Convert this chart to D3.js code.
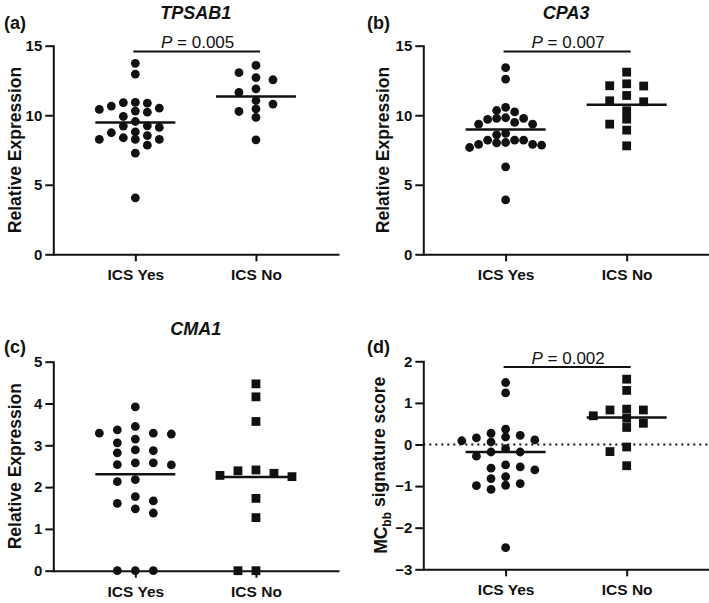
<!DOCTYPE html>
<html>
<head>
<meta charset="utf-8">
<script src="https://cdn.jsdelivr.net/npm/d3@7"></script>
<style>
  html, body { margin: 0; padding: 0; background: #fff; }
  svg { display: block; }
  text { font-family: "Liberation Sans", Arial, Helvetica, sans-serif; }
</style>
</head>
<body>
<svg id="chart" width="709" height="603"></svg>
<script>
// ---------------- DATA ----------------
const categories = ["ICS Yes", "ICS No"];

const tpsab1Yes = [13.73, 12.96, 10.92, 10.42, 10.30, 10.66, 10.51, 10.87, 10.90, 10.22, 9.91, 9.24, 8.81, 9.22, 8.74, 9.55, 9.12, 8.26, 8.54, 8.26, 8.26, 8.38, 7.85, 7.27, 4.06];
const tpsab1No  = [13.58, 13.06, 12.55, 12.70, 11.64, 11.90, 10.46, 10.80, 11.06, 10.27, 9.84, 8.23];
const tpsab1Line = [9.48, 11.35];

const cpa3Yes = [13.42, 12.60, 10.34, 10.24, 10.56, 9.70, 9.77, 9.77, 9.36, 9.36, 9.82, 9.48, 8.69, 8.59, 8.21, 8.04, 8.21, 7.68, 8.02, 7.90, 7.90, 7.85, 8.21, 6.29, 3.91];
const cpa3No  = [13.10, 12.26, 12.10, 12.12, 11.42, 11.04, 10.97, 10.32, 9.72, 9.36, 8.93, 7.80];
const cpa3Line = [8.98, 10.75];

const cma1Yes = [3.92, 3.37, 3.29, 3.29, 3.45, 3.27, 3.06, 3.15, 2.87, 2.82, 2.89, 2.54, 2.58, 2.53, 2.58, 2.18, 2.13, 1.77, 1.61, 1.67, 1.48, 1.38, 0, 0, 0];
const cma1No  = [4.47, 4.16, 3.57, 2.25, 2.41, 2.33, 2.39, 2.28, 1.73, 1.27, 0, 0];
const cma1Line = [2.31, 2.24];

const mcbbYes = [1.49, 1.24, 0.22, 0.27, 0.37, 0.06, 0.11, 0.09, 0.18, 0.16, -0.18, -0.10, -0.28, -0.18, -0.49, -0.61, -0.54, -0.57, -0.77, -0.82, -0.94, -0.99, -1.08, -0.98, -2.48];
const mcbbNo  = [1.57, 1.30, 0.85, 0.63, 0.83, 0.51, 0.69, 0.41, 0.83, -0.06, -0.17, -0.51];
const mcbbLine = [-0.18, 0.65];

const ticksAB = [0, 5, 10, 15];
const ticksC  = [0, 1, 2, 3, 4, 5];
const ticksD  = [-3, -2, -1, 0, 1, 2];

const panelLetters = ["(a)", "(b)", "(c)", "(d)"];
const geneTitles = ["TPSAB1", "CPA3", "CMA1", ""];
const pValues = ["0.005", "0.007", null, "0.002"];
const yLabelText = "Relative Expression";

// ---------------- LAYOUT ----------------
const panels = [
  { letter: panelLetters[0], title: geneTitles[0], p: pValues[0], yes: tpsab1Yes, no: tpsab1No, line: tpsab1Line,
    ticks: ticksAB, domain: [0, 15], left: 53.3, right: 338, top: 45.7, bottom: 254.3,
    shapes: ["circle", "circle"], steps: [12, 17], labelX: 4, labelY: 29, ylabX: 15, mcbb: false, zero: false },
  { letter: panelLetters[1], title: geneTitles[1], p: pValues[1], yes: cpa3Yes, no: cpa3No, line: cpa3Line,
    ticks: ticksAB, domain: [0, 15], left: 423.3, right: 709, top: 45.7, bottom: 254.3,
    shapes: ["circle", "square"], steps: [9, 17], labelX: 367, labelY: 29, ylabX: 383, mcbb: false, zero: false },
  { letter: panelLetters[2], title: geneTitles[2], p: pValues[2], yes: cma1Yes, no: cma1No, line: cma1Line,
    ticks: ticksC, domain: [0, 5], left: 53.3, right: 338, top: 361.7, bottom: 570.7,
    shapes: ["circle", "square"], steps: [18, 18], labelX: 4, labelY: 353, ylabX: 15, mcbb: false, zero: false },
  { letter: panelLetters[3], title: geneTitles[3], p: pValues[3], yes: mcbbYes, no: mcbbNo, line: mcbbLine,
    ticks: ticksD, domain: [-3, 2], left: 423.3, right: 709, top: 361.3, bottom: 569.3,
    shapes: ["circle", "square"], steps: [14.6, 16.7], labelX: 367, labelY: 353, ylabX: 381, mcbb: true, zero: true }
];

const MARK = 8.8;     // marker diameter / side
const svg = d3.select("#chart");

function swarm(values, y, cx, step) {
  const order = values.map((v, i) => i).sort((a, b) => values[b] - values[a]);
  const placed = [];
  const xs = new Array(values.length);
  let flip = false;
  for (const i of order) {
    const py = y(values[i]);
    for (let k = 0; k < 60; k++) {
      const cands = k === 0 ? [0] : (flip ? [k, -k] : [-k, k]);
      let found = null;
      for (const c of cands) {
        const px = cx + c * step;
        const hit = placed.some(p => Math.abs(p.x - px) < MARK - 0.6 && Math.abs(p.y - py) < MARK - 1.2);
        if (!hit) { found = px; break; }
      }
      if (found !== null) {
        xs[i] = found; placed.push({ x: found, y: py });
        if (k > 0) flip = !flip;
        break;
      }
    }
  }
  return xs;
}

panels.forEach(P => {
  const g = svg.append("g");
  const y = d3.scaleLinear().domain(P.domain).range([P.bottom, P.top]);
  const x = d3.scalePoint().domain(categories).range([P.left, P.right]).padding(0.68);

  if (P.zero) {
    g.append("line")
      .attr("x1", P.left).attr("x2", P.right)
      .attr("y1", y(0)).attr("y2", y(0))
      .attr("stroke", "#111").attr("stroke-width", 2)
      .attr("stroke-dasharray", "2,4");
  }

  const yAxis = g.append("g")
    .attr("transform", `translate(${P.left},0)`)
    .call(d3.axisLeft(y).tickValues(P.ticks).tickSize(8).tickSizeOuter(0).tickPadding(3).tickFormat(d3.format("d")));
  const xAxis = g.append("g")
    .attr("transform", `translate(0,${P.bottom})`)
    .call(d3.axisBottom(x).tickSize(7).tickSizeOuter(0).tickPadding(8));
  [yAxis, xAxis].forEach(a => {
    a.select(".domain").attr("stroke", "#111").attr("stroke-width", 2).attr("stroke-linecap", "square");
    a.selectAll(".tick line").attr("stroke", "#111").attr("stroke-width", 2);
    a.selectAll(".tick text").attr("fill", "#111")
      .style("font-family", '"Liberation Sans", Arial, sans-serif').style("font-weight", "bold");
  });
  yAxis.selectAll(".tick text").style("font-size", "15px");
  xAxis.selectAll(".tick text").style("font-size", "15.5px");

  const groups = [P.yes, P.no];
  groups.forEach((vals, gi) => {
    const cx = x(categories[gi]);
    const xs = swarm(vals, y, cx, P.steps[gi]);
    if (P.shapes[gi] === "circle") {
      g.append("g").selectAll("circle").data(vals).join("circle")
        .attr("cx", (d, i) => xs[i]).attr("cy", d => y(d))
        .attr("r", MARK / 2).attr("fill", "#111");
    } else {
      g.append("g").selectAll("rect").data(vals).join("rect")
        .attr("x", (d, i) => xs[i] - MARK / 2).attr("y", d => y(d) - MARK / 2)
        .attr("width", MARK).attr("height", MARK).attr("fill", "#111");
    }
    g.append("line")
      .attr("x1", cx - 40).attr("x2", cx + 40)
      .attr("y1", y(P.line[gi])).attr("y2", y(P.line[gi]))
      .attr("stroke", "#111").attr("stroke-width", 2.5);
  });

  const x1 = x(categories[0]), x2 = x(categories[1]);
  const mid = (x1 + x2) / 2;

  if (P.p) {
    const by = P.top + 5.8;
    g.append("line").attr("x1", x1 - 2).attr("x2", x2 + 4).attr("y1", by).attr("y2", by)
      .attr("stroke", "#111").attr("stroke-width", 2);
    const t = g.append("text").attr("x", mid + 2).attr("y", by - 3.5)
      .attr("text-anchor", "middle").attr("fill", "#111").style("font-size", "17px");
    t.append("tspan").style("font-style", "italic").text("P");
    t.append("tspan").text(" = " + P.p);
  }

  if (P.title) {
    g.append("text").attr("x", mid).attr("y", P.top - 26.5)
      .attr("text-anchor", "middle").attr("fill", "#111")
      .style("font-size", "18px").style("font-weight", "bold").style("font-style", "italic")
      .text(P.title);
  }

  g.append("text").attr("x", P.labelX).attr("y", P.labelY)
    .attr("fill", "#111").style("font-size", "18px").style("font-weight", "bold")
    .text(P.letter);

  const cy = (P.top + P.bottom) / 2;
  const yl = g.append("text")
    .attr("transform", `translate(${P.ylabX},${cy}) rotate(-90)`)
    .attr("text-anchor", "middle").attr("dy", "0.35em").attr("fill", "#111")
    .style("font-size", "17.5px").style("font-weight", "bold");
  if (P.mcbb) {
    yl.append("tspan").text("MC");
    yl.append("tspan").attr("dy", "0.3em").style("font-size", "12px").text("bb");
    yl.append("tspan").attr("dy", "-0.3em").text(" signature score");
  } else {
    yl.text(yLabelText);
  }
});
</script>
</body>
</html>
